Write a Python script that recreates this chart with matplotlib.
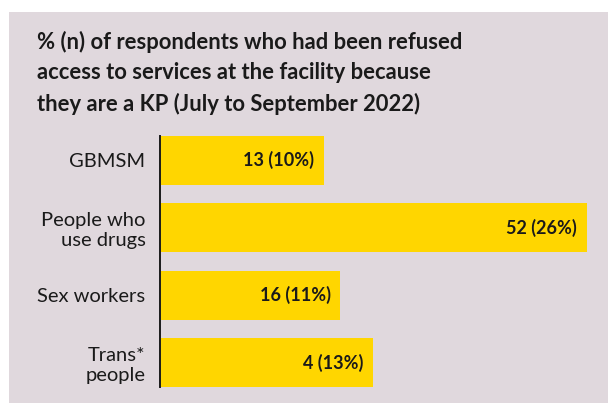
import matplotlib.pyplot as plt
from matplotlib.patches import Rectangle

categories = ['GBMSM', 'People who\nuse drugs', 'Sex workers', 'Trans*\npeople']
counts = [13, 52, 16, 4]
percents = [10, 26, 11, 13]

title = ('% (n) of respondents who had been refused\n'
         'access to services at the facility because\n'
         'they are a KP (July to September 2022)')

panel = '#e0d8dd'
yellow = '#ffd600'
ink = '#1a1a1a'

plt.rcParams['font.family'] = ['Lato', 'DejaVu Sans']

fig = plt.figure(figsize=(6.08, 4.03), dpi=100)
fig.patch.set_facecolor('white')
fig.patches.append(Rectangle((9 / 608, 0), 1, 1 - 12 / 403,
                             transform=fig.transFigure, facecolor=panel,
                             edgecolor='none', zorder=-1))

fig.text(37 / 608, 1 - 31 / 403, title, ha='left', va='top', fontsize=15.8,
         fontweight='bold', color=ink, linespacing=1.55)

ax = fig.add_axes([159.5 / 608, 1 - 387 / 403, 444 / 608, 251 / 403])
ax.set_facecolor('none')
ypos = range(len(categories))
ax.barh(ypos, percents, height=0.72, color=yellow, edgecolor='none')
for y, n, p in zip(ypos, counts, percents):
    ax.text(p - 0.6, y, f'{n} ({p}%)', ha='right', va='center',
            fontsize=13, fontweight='bold', color=ink)

ax.set_xlim(0, 27)
ax.set_ylim(3.36, -0.36)
ax.set_yticks(list(ypos))
ax.set_yticklabels(categories, fontsize=14.5, color=ink, linespacing=1.2)
ax.tick_params(axis='y', length=0, pad=10)
ax.set_xticks([])
for side in ['top', 'right', 'bottom']:
    ax.spines[side].set_visible(False)
ax.spines['left'].set_linewidth(1.4)
ax.spines['left'].set_color(ink)

fig.savefig('out.png', dpi=100)
